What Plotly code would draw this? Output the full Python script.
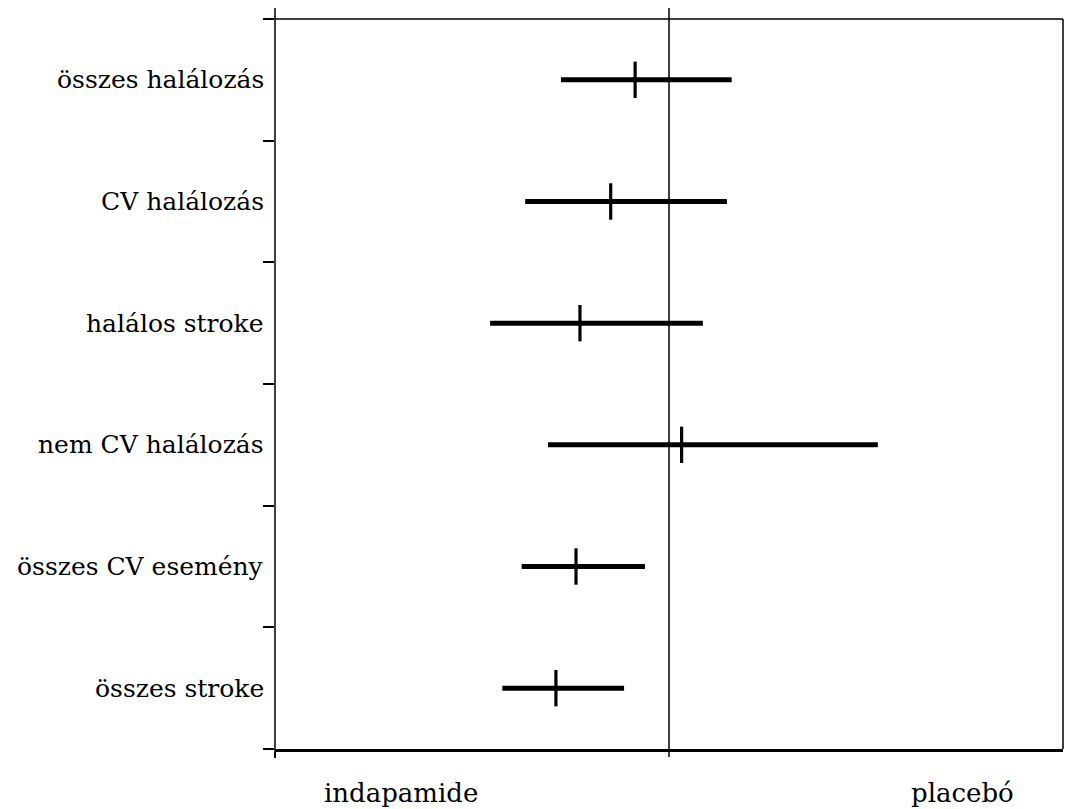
import plotly.graph_objects as go

# ---- data ----
categories = ["összes halálozás", "CV halálozás", "halálos stroke",
              "nem CV halálozás", "összes CV esemény", "összes stroke"]
point_est = [0.914, 0.852, 0.774, 1.032, 0.764, 0.713]
ci_low = [0.726, 0.635, 0.546, 0.693, 0.626, 0.577]
ci_high = [1.159, 1.147, 1.086, 1.530, 0.939, 0.886]
side_labels = ["indapamide", "placebó"]
side_label_pos = [0.32, 1.746]
ref_value = 1.0

n = len(categories)
ypos = [n - 0.5 - i for i in range(n)]

FONT = "DejaVu Serif"
fig = go.Figure()

# confidence interval bars
ci_x, ci_y = [], []
for lo, hi, y in zip(ci_low, ci_high, ypos):
    ci_x += [lo, hi, None]
    ci_y += [y, y, None]
fig.add_trace(go.Scatter(x=ci_x, y=ci_y, mode="lines",
                         line=dict(color="black", width=5),
                         hoverinfo="skip", showlegend=False))

# point estimates (vertical ticks)
fig.add_trace(go.Scatter(x=point_est, y=ypos, mode="markers",
                         marker=dict(symbol="line-ns", size=26,
                                     line=dict(color="black", width=3.2)),
                         text=categories, showlegend=False))

# reference line at 1 and axis extensions
ext_top = 1 + 11 / 730
ext_bot = -8 / 730
fig.add_shape(type="line", xref="x", yref="paper", x0=ref_value, x1=ref_value,
              y0=ext_bot, y1=ext_top, line=dict(color="black", width=1.5))
fig.add_shape(type="line", xref="paper", yref="paper", x0=0, x1=0,
              y0=-6 / 730, y1=ext_top, line=dict(color="black", width=1.5))
# top and right frame lines (thin)
fig.add_shape(type="line", xref="paper", yref="paper", x0=0, x1=1,
              y0=1, y1=1, line=dict(color="black", width=1.5))
fig.add_shape(type="line", xref="paper", yref="paper", x0=1, x1=1,
              y0=0, y1=1, line=dict(color="black", width=1.5))

annotations = []
for cat, y in zip(categories, ypos):
    annotations.append(dict(text=cat, xref="paper", yref="y", x=0, y=y,
                            xanchor="right", yanchor="middle", xshift=-9,
                            showarrow=False,
                            font=dict(family=FONT, size=25, color="black")))
for lab, xp in zip(side_labels, side_label_pos):
    annotations.append(dict(text=lab, xref="x", yref="paper", x=xp, y=0,
                            xanchor="center", yanchor="middle", yshift=-44,
                            showarrow=False,
                            font=dict(family=FONT, size=26, color="black")))

fig.update_layout(
    width=1065, height=809,
    margin=dict(l=275, r=2, t=19, b=60),
    paper_bgcolor="white", plot_bgcolor="white",
    annotations=annotations,
    xaxis=dict(range=[0, 2], showgrid=False, zeroline=False,
               showline=True, linecolor="black", linewidth=3,
               tickvals=[0], ticks="outside", ticklen=6, tickwidth=1.5,
               tickcolor="black", showticklabels=False, fixedrange=True),
    yaxis=dict(range=[0, n], showgrid=False, zeroline=False,
               showline=False,
               tickvals=list(range(n + 1)), ticks="outside", ticklen=11,
               tickwidth=1.5, tickcolor="black", showticklabels=False,
               fixedrange=True),
)

fig.write_html("out.html")
